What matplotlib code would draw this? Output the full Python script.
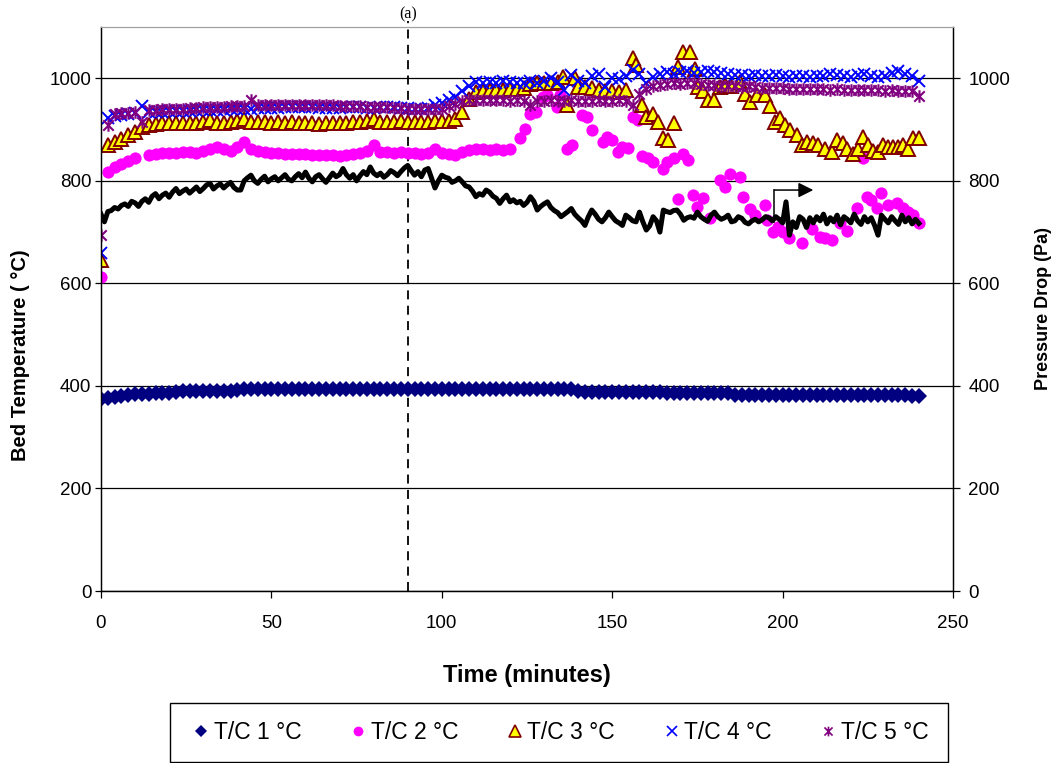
import numpy as np
import matplotlib
matplotlib.use("Agg")
import matplotlib.pyplot as plt
from matplotlib.path import Path
from matplotlib.lines import Line2D
from matplotlib.patches import Rectangle

plt.rcParams['font.family'] = ['Liberation Sans', 'DejaVu Sans']

# ---- data -------------------------------------------------------------
# sample times (minutes) for the regularly logged thermocouples
t_grid = np.arange(0, 241, 2)

tc1 = [375, 377, 379, 381, 383, 384, 385, 385, 386, 386,
       387, 389, 390, 390, 390, 391, 390, 390, 390, 391,
       392, 393, 393, 393, 393, 393, 393, 393, 393, 393,
       393, 393, 393, 393, 393, 393, 393, 393, 393, 393,
       393, 393, 393, 393, 393, 393, 393, 393, 393, 393,
       393, 393, 393, 393, 393, 393, 393, 393, 393, 393,
       393, 393, 393, 393, 393, 393, 393, 393, 393, 393,
       390, 389, 389, 389, 389, 389, 389, 389, 389, 389,
       389, 389, 389, 386, 386, 386, 386, 386, 386, 386,
       386, 386, 386, 383, 383, 383, 383, 383, 383, 383,
       383, 383, 383, 383, 383, 383, 383, 383, 383, 383,
       383, 383, 383, 383, 383, 383, 383, 382, 382, 381,
       380]

tc2_t = [0, 2, 4, 6, 8, 10, 14, 16, 18, 20, 22, 24, 26, 28, 30, 32, 34, 36,
         38, 40, 42, 44, 46, 48, 50, 52, 54, 56, 58, 60, 62, 64, 66, 68, 70,
         72, 74, 76, 78, 80, 82, 84, 86, 88, 90, 92, 94, 96, 98, 100, 102,
         104, 106, 108, 110, 112, 114, 116, 118, 120, 123, 124.5, 126, 127.5,
         129.7, 131, 133.8, 134.7, 136.7, 138.2, 141, 142.6, 144, 147.3,
         148.5, 150, 151.7, 153, 154.6, 156, 157.6, 158.7, 160.5, 162, 165,
         166, 168, 169.3, 170.8, 172.2, 173.7, 175, 176.6, 178.7, 181.6, 183,
         184.6, 187.5, 188.4, 190.4, 192, 194.8, 195.4, 197.3, 198.7, 200,
         202, 205.6, 208.6, 211, 212.4, 214.4, 216.8, 219, 221.7, 223.6,
         224.7, 226, 227.6, 229, 231, 233.5, 235.4, 236.8, 238.3, 240]
tc2_v = [612, 818, 826, 832, 838, 845, 850, 852, 854, 855, 855, 856, 856, 855,
         858, 862, 866, 862, 858, 866, 876, 862, 858, 856, 855, 854, 853, 852,
         852, 852, 851, 850, 850, 850, 849, 850, 852, 855, 858, 869, 857, 856,
         855, 856, 855, 854, 853, 855, 862, 855, 852, 851, 856, 860, 862, 863,
         861, 862, 860, 862, 883, 902, 931, 935, 963, 967, 944, 967, 863, 869,
         928, 924, 900, 876, 886, 879, 856, 866, 864, 924, 918, 848, 844, 837,
         823, 837, 844, 764, 852, 840, 772, 749, 766, 727, 801, 788, 813, 808,
         769, 745, 733, 752, 723, 700, 710, 700, 688, 679, 707, 690, 688, 684,
         717, 703, 747, 844, 769, 762, 747, 776, 752, 756, 747, 740, 733, 718]

tc3_t = [0, 2, 4, 6, 8, 10, 12, 14, 16, 18, 20, 22, 24, 26, 28, 30, 32, 34,
         36, 38, 40, 42, 44, 46, 48, 50, 52, 54, 56, 58, 60, 62, 64, 66, 68,
         70, 72, 74, 76, 78, 80, 82, 84, 86, 88, 90, 92, 94, 96, 98, 100, 102,
         104, 106, 108, 110, 112, 114, 116, 118, 120, 122, 124, 126, 128, 130,
         132, 134, 135.7, 136.6, 139, 140, 142, 144, 146, 148, 150, 152, 154,
         156.2, 157, 158.7, 160, 162, 163.5, 165, 166.4, 168, 169.3, 170.8,
         172.8, 174.3, 175.2, 176.7, 178, 180, 181.5, 183, 185, 187.5, 189,
         190.4, 192.4, 194.8, 196.3, 197.8, 199.2, 200.7, 202.2, 204.2, 205.7,
         207.2, 209, 210.5, 212.5, 214.5, 215.9, 217.8, 218.8, 220.7, 222,
         223.7, 225, 226.6, 228, 229.5, 231, 232.5, 233.9, 235.4, 236.9,
         238.4, 240]
tc3_v = [645, 869, 876, 882, 889, 895, 905, 908, 910, 912, 912, 913, 912, 913,
         912, 914, 918, 913, 912, 914, 916, 921, 915, 914, 914, 913, 914, 913,
         914, 912, 913, 912, 911, 912, 913, 912, 913, 914, 914, 916, 921, 915,
         914, 915, 916, 915, 914, 915, 915, 916, 916, 917, 920, 935, 960, 973,
         976, 978, 977, 978, 979, 980, 982, 988, 990, 990, 991, 992, 1003, 947,
         1000, 983, 983, 982, 978, 976, 975, 974, 978, 1039, 1026, 947, 925,
         931, 915, 883, 879, 912, 1022, 1051, 1051, 1019, 983, 975, 957, 957,
         983, 986, 985, 993, 970, 954, 967, 967, 945, 915, 922, 908, 899, 889,
         869, 876, 873, 869, 863, 856, 879, 873, 863, 853, 863, 886, 869, 859,
         856, 869, 866, 866, 866, 869, 863, 883, 883]

tc4 = [660, 922, 926, 928, 930, 932, 946, 934, 934, 935,
       936, 936, 937, 937, 938, 938, 938, 939, 939, 940,
       940, 941, 941, 942, 942, 942, 942, 943, 943, 943,
       943, 943, 942, 942, 942, 942, 943, 943, 943, 942,
       942, 943, 943, 943, 942, 942, 941, 941, 942, 947,
       951, 958, 964, 975, 985, 993, 990, 993, 990, 994,
       992, 990, 991, 995, 990, 994, 1000, 992, 978, 1006,
       994, 990, 1004, 1009, 983, 1000, 998, 1004, 1016, 1009,
       990, 1003, 1009, 1013, 1008, 1012, 1014, 1010, 1013, 1015,
       1012, 1010, 1008, 1007, 1006, 1005, 1006, 1004, 1005, 1006,
       1004, 1003, 1005, 1004, 1003, 1005, 1004, 1008, 1006, 1004,
       1003, 1006, 1008, 1004, 1003, 1005, 1010, 1014, 1008, 1004,
       995]

tc5 = [695, 908, 930, 932, 933, 934, 915, 938, 939, 940,
       940, 941, 941, 942, 942, 943, 943, 944, 944, 945,
       945, 946, 957, 947, 947, 947, 948, 948, 948, 947,
       948, 947, 947, 948, 947, 946, 946, 945, 945, 944,
       944, 943, 943, 942, 942, 941, 941, 940, 940, 940,
       941, 945, 950, 955, 957, 958, 957, 958, 957, 958,
       955, 957, 956, 947, 955, 956, 957, 955, 956, 957,
       956, 955, 956, 957, 955, 956, 957, 955, 947, 970,
       980, 985, 987, 988, 990, 989, 990, 991, 988, 987,
       986, 985, 984, 985, 983, 984, 983, 982, 982, 981,
       981, 980, 980, 979, 980, 979, 979, 978, 979, 978,
       978, 977, 978, 977, 977, 976, 977, 976, 975, 975,
       966]

# pressure drop logged every minute
t_press = np.arange(0, 241, 1)
pressure = [735, 720, 740, 742, 748, 745, 752, 755, 750, 760, 757,
            750, 760, 765, 758, 770, 775, 765, 772, 776, 768,
            778, 785, 775, 780, 784, 776, 782, 788, 779, 785,
            792, 795, 784, 790, 794, 786, 792, 797, 787, 782,
            782, 800, 806, 811, 800, 795, 803, 809, 798, 804,
            808, 800, 806, 812, 803, 800, 808, 814, 806, 817,
            805, 798, 808, 812, 804, 797, 806, 815, 808, 812,
            824, 812, 805, 812, 800, 810, 818, 812, 827, 815,
            810, 815, 807, 812, 820, 816, 810, 818, 825, 830,
            820, 811, 818, 808, 821, 824, 805, 786, 800, 811,
            807, 805, 797, 800, 805, 798, 790, 788, 780, 769,
            775, 772, 782, 778, 770, 766, 756, 765, 772, 759,
            763, 757, 760, 752, 758, 769, 760, 743, 750, 755,
            759, 748, 742, 738, 730, 735, 740, 746, 735, 728,
            722, 713, 730, 743, 735, 725, 720, 728, 739, 730,
            722, 718, 713, 733, 728, 722, 720, 739, 720, 704,
            712, 730, 722, 700, 743, 740, 738, 742, 743, 735,
            723, 728, 730, 727, 739, 730, 725, 721, 733, 739,
            730, 725, 728, 733, 720, 722, 730, 727, 719, 716,
            722, 725, 720, 724, 730, 728, 722, 730, 725, 718,
            759, 694, 720, 709, 730, 725, 709, 728, 718, 730,
            722, 735, 716, 728, 720, 733, 714, 730, 725, 718,
            735, 722, 715, 730, 720, 728, 713, 694, 733, 725,
            718, 730, 722, 715, 733, 720, 728, 716, 725, 717]

x_ticks = [0, 50, 100, 150, 200, 250]
y_ticks = [0, 200, 400, 600, 800, 1000]
series_labels = ['T/C 1 °C', 'T/C 2 °C', 'T/C 3 °C', 'T/C 4 °C', 'T/C 5 °C']
marked_time = 90
arrow_time = [197.5, 209]
arrow_level = [720, 782]

# ---- styling ----------------------------------------------------------
asterisk = Path([(-1, -1), (1, 1), (-1, 1), (1, -1), (0, -1.2), (0, 1.2)],
                [Path.MOVETO, Path.LINETO] * 3)

styles = [
    dict(marker='D', color='#000080', markersize=8, linestyle='none',
         markeredgewidth=0),
    dict(marker='o', color='#FF00FF', markersize=8.8, linestyle='none',
         markeredgewidth=0),
    dict(marker='^', markerfacecolor='#FFFF00', markeredgecolor='#800000',
         markersize=9.5, linestyle='none', markeredgewidth=1.4),
    dict(marker='x', color='#0000FF', markersize=8, linestyle='none',
         markeredgewidth=1.4),
    dict(marker=asterisk, color='#800080', markersize=9, linestyle='none',
         markeredgewidth=1.5, markerfacecolor='none'),
]

W, H = 1064, 763
fig = plt.figure(figsize=(W / 100, H / 100), dpi=100)
ax = fig.add_axes([101 / W, 1 - 591 / H, 852 / W, 564 / H])
ax2 = ax.twinx()

ax.plot(t_grid, tc1, **styles[0])
ax.plot(tc2_t, tc2_v, **styles[1])
ax.plot(tc3_t, tc3_v, **styles[2])
ax.plot(t_grid, tc4, **styles[3])
ax.plot(t_grid, tc5, **styles[4])

ax2.plot(t_press, pressure, color='black', lw=3.6, solid_joinstyle='round')
# arrow pointing the pressure curve to its axis
ax2.plot([arrow_time[0], arrow_time[0]], arrow_level, color='black', lw=1.1)
ax2.annotate('', xy=(arrow_time[1], arrow_level[1]),
             xytext=(arrow_time[0], arrow_level[1]),
             arrowprops=dict(arrowstyle='-|>,head_length=0.9,head_width=0.45',
                             color='black', lw=1.1, shrinkA=0, shrinkB=0))

ax.axvline(marked_time, ymin=0, ymax=1.01, color='black', lw=1.3,
           linestyle=(0, (5, 3.5)), zorder=1, clip_on=False)
ax.text(marked_time, 1.008, '(a)', transform=ax.get_xaxis_transform(),
        ha='center', va='bottom', fontsize=11.5, family='Liberation Serif')

for a in (ax, ax2):
    a.set_xlim(0, 250)
    a.set_ylim(0, 1100)
    a.set_yticks(y_ticks)
ax.set_xticks(x_ticks)
ax.grid(axis='y', color='black', lw=0.9)
ax.set_axisbelow(True)

ax.tick_params(axis='y', labelsize=13.5, direction='out', length=4,
               width=0.9, pad=3)
ax.tick_params(axis='x', labelsize=13.5, direction='out', length=5,
               width=0.9, pad=12)
ax2.tick_params(axis='y', labelsize=13.5, direction='out', length=5,
                width=0.9, pad=6)

for a in (ax, ax2):
    a.spines['top'].set_color('#a0a0a0')
    for s in ('left', 'right', 'bottom'):
        a.spines[s].set_color('black')
        a.spines[s].set_linewidth(0.9)

ax.set_xlabel('Time (minutes)', fontsize=17, fontweight='bold', labelpad=23)
ax.set_ylabel('Bed Temperature ( °C)', fontsize=14.5, fontweight='bold')
ax.yaxis.set_label_coords(-0.083, 0.418)
ax2.set_ylabel('Pressure Drop (Pa)', fontsize=13, fontweight='bold',
               labelpad=18)

handles = [
    Line2D([], [], marker='D', color='#000080', markersize=6,
           linestyle='none', markeredgewidth=0),
    Line2D([], [], marker='o', color='#FF00FF', markersize=7,
           linestyle='none', markeredgewidth=0),
    Line2D([], [], marker='^', markerfacecolor='#FFFF00',
           markeredgecolor='#800000', markersize=8, linestyle='none',
           markeredgewidth=1.2),
    Line2D([], [], marker='x', color='#0000FF', markersize=7,
           linestyle='none', markeredgewidth=1.2),
    Line2D([], [], marker=asterisk, color='#800080', markersize=7,
           linestyle='none', markeredgewidth=1.2, markerfacecolor='none'),
]
# legend box drawn as its own frame, entries spread inside it
fig.patches.append(Rectangle((170 / W, 1 - 762 / H), 778 / W, 59 / H,
                             transform=fig.transFigure, fill=False,
                             edgecolor='black', lw=1.0))
fig.legend(handles, series_labels, loc='center', ncol=5,
           bbox_to_anchor=(176 / W, 1 - 762 / H, 771 / W, 59 / H),
           mode='expand', fontsize=16.5, frameon=False,
           handlelength=0.6, handletextpad=0.25, borderaxespad=0,
           borderpad=0.8, columnspacing=1.0)

fig.savefig('out.png', dpi=100)
